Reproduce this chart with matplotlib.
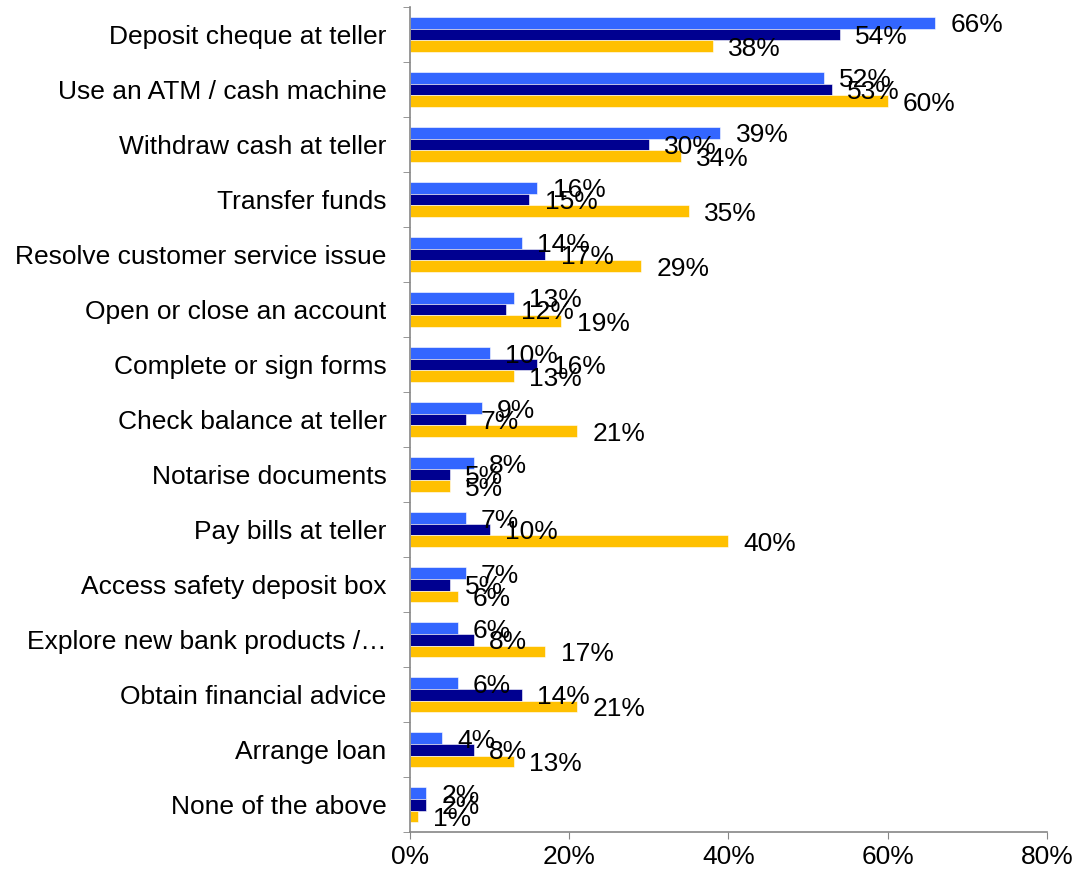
import numpy as np
import matplotlib.pyplot as plt
from matplotlib.ticker import FuncFormatter

plt.rcParams['font.family'] = ['Liberation Sans', 'DejaVu Sans']

activities = [
    "Deposit cheque at teller",
    "Use an ATM / cash machine",
    "Withdraw cash at teller",
    "Transfer funds",
    "Resolve customer service issue",
    "Open or close an account",
    "Complete or sign forms",
    "Check balance at teller",
    "Notarise documents",
    "Pay bills at teller",
    "Access safety deposit box",
    "Explore new bank products /\u2026",
    "Obtain financial advice",
    "Arrange loan",
    "None of the above",
]
series_a = [66, 52, 39, 16, 14, 13, 10, 9, 8, 7, 7, 6, 6, 4, 2]
series_b = [54, 53, 30, 15, 17, 12, 16, 7, 5, 10, 5, 8, 14, 8, 2]
series_c = [38, 60, 34, 35, 29, 19, 13, 21, 5, 40, 6, 17, 21, 13, 1]

colors = ["#3366FF", "#000090", "#FFC000"]
fs = 19

fig = plt.figure(figsize=(10.82, 8.75), dpi=100)
ax = fig.add_axes([0.379, 0.049, 0.5885, 0.943])

n = len(activities)
pos = np.arange(n)
h = 0.215
for k, (vals, col) in enumerate(zip([series_a, series_b, series_c], colors)):
    y = pos + (k - 1) * h
    ax.barh(y, vals, height=h, color=col, edgecolor="white", linewidth=0.4)
    for yy, v in zip(y, vals):
        ax.annotate(f"{v}%", (v, yy), xytext=(11, -2), textcoords="offset points",
                    va="center", ha="left", fontsize=fs)

ax.set_ylim(n - 0.5, -0.5)
ax.set_xlim(0, 80)
ax.set_xticks([0, 20, 40, 60, 80])
ax.xaxis.set_major_formatter(FuncFormatter(lambda x, p: f"{x:.0f}%"))

ax.set_yticks(pos)
ax.set_yticklabels(activities)
ax.set_yticks(np.arange(n + 1) - 0.5, minor=True)
ax.tick_params(axis="y", which="major", length=0, pad=17, labelsize=fs)
ax.tick_params(axis="y", which="minor", length=5, color="#868686")
ax.tick_params(axis="x", length=5, color="#868686", labelsize=fs, pad=4)

for side in ["top", "right"]:
    ax.spines[side].set_visible(False)
for side in ["left", "bottom"]:
    ax.spines[side].set_color("#868686")
    ax.spines[side].set_linewidth(1.2)

fig.savefig("out.png", dpi=100)
